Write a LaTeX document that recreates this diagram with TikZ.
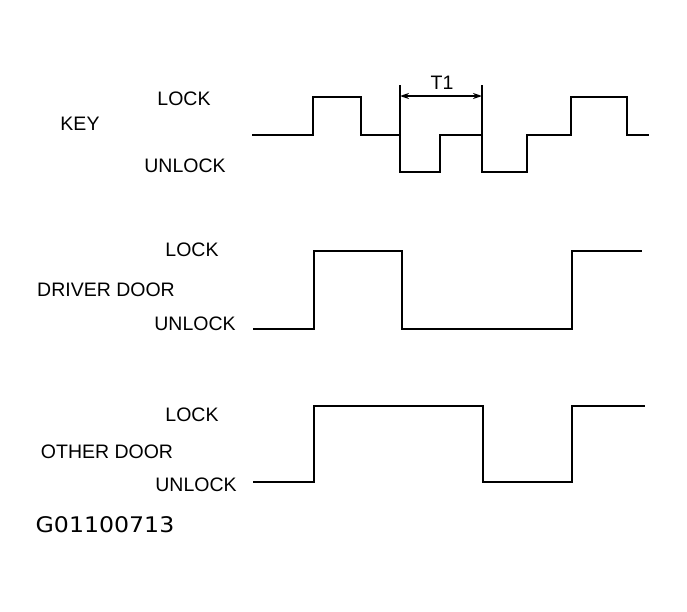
\documentclass[tikz,border=0pt]{standalone}
\usepackage{fontspec}
\setmainfont{Liberation Sans}
\newfontfamily\codefont{DejaVu Sans}
\usetikzlibrary{arrows.meta}
\begin{document}
\begin{tikzpicture}[x=1pt,y=-1pt,
  wave/.style={line width=2pt, line join=miter},
  lbl/.style={inner sep=0pt, font=\fontsize{19.5}{20}\selectfont},
  dimline/.style={line width=1.5pt},
  dimarrow/.style={line width=1.5pt, {Stealth[length=9pt,width=6pt]}-{Stealth[length=9pt,width=6pt]}}]
\useasboundingbox (0,0) rectangle (687,611);
\fill[white] (0,0) rectangle (687,611);

% labels
\node[lbl] (keylock)   at (184,99)  {LOCK};
\node[lbl] (key)       at (80,124)  {KEY};
\node[lbl] (keyunlock) at (185,166) {UNLOCK};
\node[lbl] (drvlock)   at (192,250) {LOCK};
\node[lbl] (drv)       at (106,290) {DRIVER DOOR};
\node[lbl] (drvunlock) at (195,324) {UNLOCK};
\node[lbl] (othlock)   at (192,415) {LOCK};
\node[lbl] (oth)       at (107,452) {OTHER DOOR};
\node[lbl] (othunlock) at (196,485) {UNLOCK};
\node[inner sep=0pt, font=\codefont\fontsize{21.5}{22}\selectfont] (code) at (105,525) {\scalebox{1.1}[1]{G01100713}};

% key waveform
\draw[wave] (252,135) -- (313,135) -- (313,97) -- (361,97) -- (361,135)
  -- (400,135) -- (400,172) -- (440,172) -- (440,135) -- (482,135)
  -- (482,172) -- (527,172) -- (527,135) -- (571,135) -- (571,97)
  -- (627,97) -- (627,135) -- (649,135);

% T1 dimension
\coordinate (t1ltop) at (400,85);
\coordinate (t1lbot) at (400,135);
\coordinate (t1rtop) at (482,85);
\coordinate (t1rbot) at (482,134);
\coordinate (t1a) at (400,96);
\coordinate (t1b) at (482,96);
\draw[dimline] (t1ltop) -- (t1lbot);
\draw[dimline] (t1rtop) -- (t1rbot);
\draw[dimarrow] (t1a) -- (t1b);
\node[lbl] (t1) at (442,83) {T1};

% driver door waveform
\draw[wave] (253,329) -- (314,329) -- (314,251) -- (402,251) -- (402,329)
  -- (572,329) -- (572,251) -- (642,251);

% other door waveform
\draw[wave] (253,482) -- (314,482) -- (314,406) -- (483,406) -- (483,482)
  -- (572,482) -- (572,406) -- (645,406);
\end{tikzpicture}
\end{document}
